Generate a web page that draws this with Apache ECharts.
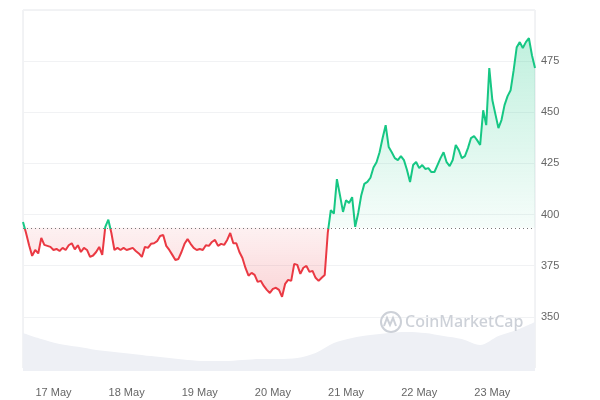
<!DOCTYPE html>
<html>
<head>
<meta charset="utf-8">
<script src="https://cdn.jsdelivr.net/npm/echarts@6/dist/echarts.min.js"></script>
<style>html,body{margin:0;padding:0;background:#fff;}#c{width:600px;height:400px;}</style>
</head>
<body>
<div id="c"></div>
<script>
// hourly samples starting 16 May 14:00
const startLabel = '2024-05-16T14:00:00Z';
const baseline = 393.5;
const price = [
396.4,391,385,379.8,382.7,381,388.6,385.2,384.7,384.2,
382.7,383.2,382.2,383.7,382.7,385,386,383,385,381.7,
383.7,382.7,379.3,380,381.7,384.2,380.3,394,397.5,391,
382.7,383.7,382.7,383.7,382.7,383.2,383.7,382.2,381,379.3,
384.2,383.7,385.7,386,387,389.5,390,384.7,382.7,380.3,
377.8,378.3,381.7,385.7,388,385.7,383.7,382.7,383.2,382.7,
385,384.7,386.6,387.6,384.7,385.7,385.2,387.6,391,386,
386,381.7,378.8,373.9,370.1,371.5,370.5,367.1,367.6,365.1,
363.2,361.7,363.7,364.2,363.2,359.8,366.1,368.1,367.6,375.9,
375.4,371,374,374.9,372,372.5,369.1,367.6,369.1,370.5,
391,402.2,400.5,417.3,409.5,401.3,407,405.7,408.5,394,
400.8,409.5,415,416,418,423,425.6,430.5,437.4,443.7,
433,430.5,427.6,426.6,428.6,426.6,421.8,415.9,424.2,425.7,
422.7,424.2,422.3,422.7,420.8,420.8,424.2,427.6,430.5,425.6,
423.7,426.7,434,431.5,427.6,428.6,432.5,437.4,438.4,436.4,
434,451,443.7,471.6,456,449.1,442.3,446.2,453.5,457.9,
460.8,470.6,481.8,484.3,481.4,484.3,486.2,477.9,471.6
];
// volume every 6 hours (arbitrary units)
const volume = [
53.5,45,38,34,29.6,26.8,24,21,18.3,15.5,
14,14,15.5,17,17,18.3,25.4,39.4,46.5,50.7,
53.5,55,53.5,49.3,45,36.6,49.3,57.7,69
];
const monthName = 'May';

const GREEN = '#16c784', RED = '#ea3943';
const t0 = Date.parse(startLabel);
const hours = price.map((_, i) => new Date(t0 + i * 3600e3).toISOString());
const volHours = volume.map((_, i) => new Date(t0 + i * 6 * 3600e3).toISOString());
const greenPart = price.map(v => Math.max(v, baseline));
const redPart = price.map(v => Math.min(v, baseline));
const pMax = Math.max(...price), pMin = Math.min(...price);
const split = (pMax - baseline) / (pMax - pMin);

const chart = echarts.init(document.getElementById('c'));
const font = '"Liberation Sans", Arial, sans-serif';
chart.setOption({
  animation: false,
  grid: [
    {left: 23, right: 65, top: 10, bottom: 32, show: true, borderColor: '#e4e6ea', borderWidth: 1},
    {left: 23, right: 65, top: 300, bottom: 29}
  ],
  xAxis: [
    {type: 'category', gridIndex: 0, data: hours, boundaryGap: false,
     axisLine: {show: false}, axisTick: {show: false}, splitLine: {show: false},
     axisLabel: {margin: 19, color: '#666', fontSize: 11, fontFamily: font,
       interval: (idx, val) => new Date(val).getUTCHours() === 0,
       formatter: val => new Date(val).getUTCDate() + ' ' + monthName}},
    {type: 'category', gridIndex: 1, data: volHours, boundaryGap: false, show: false}
  ],
  yAxis: [
    {type: 'value', gridIndex: 0, position: 'right', min: 325, max: 500, interval: 25,
     axisLine: {show: false}, axisTick: {show: false},
     axisLabel: {margin: 6, color: '#666', fontSize: 11, fontFamily: font, showMinLabel: false, showMaxLabel: false},
     splitLine: {lineStyle: {color: '#f1f2f4'}}},
    {type: 'value', gridIndex: 1, min: 0, max: 100, show: false, splitLine: {show: false}}
  ],
  graphic: [
    {type: 'circle', z: 50, shape: {cx: 391, cy: 322, r: 10}, style: {fill: 'none', stroke: '#cdd1d8', lineWidth: 2}},
    {type: 'polyline', z: 50, shape: {points: [[384, 326], [387, 318], [390, 325], [393, 318], [396, 326]]}, style: {fill: 'none', stroke: '#cdd1d8', lineWidth: 2}},
    {type: 'text', z: 50, x: 405, y: 322, style: {text: 'CoinMarketCap', font: '500 16px "Noto Sans", sans-serif', fill: '#cdd1d8', verticalAlign: 'middle'}}
  ],
  series: [
    {type: 'line', xAxisIndex: 1, yAxisIndex: 1, data: volume, showSymbol: false, smooth: 0.3,
     lineStyle: {width: 0}, areaStyle: {color: '#eef0f5', opacity: 1}, silent: true, z: 1},
    {type: 'line', data: greenPart, showSymbol: false, lineStyle: {width: 0}, silent: true, z: 2,
     areaStyle: {origin: baseline, color: new echarts.graphic.LinearGradient(0, 0, 0, 1, [
       {offset: 0, color: 'rgba(22,199,132,0.38)'}, {offset: 1, color: 'rgba(22,199,132,0.06)'}])}},
    {type: 'line', data: redPart, showSymbol: false, lineStyle: {width: 0}, silent: true, z: 2,
     areaStyle: {origin: baseline, color: new echarts.graphic.LinearGradient(0, 0, 0, 1, [
       {offset: 0, color: 'rgba(234,57,67,0.10)'}, {offset: 1, color: 'rgba(234,57,67,0.30)'}])}},
    {type: 'line', data: price, showSymbol: false, z: 3,
     lineStyle: {width: 2, color: new echarts.graphic.LinearGradient(0, 0, 0, 1, [
       {offset: 0, color: GREEN}, {offset: split, color: GREEN},
       {offset: split, color: RED}, {offset: 1, color: RED}])},
     markLine: {silent: true, symbol: 'none', label: {show: false},
       lineStyle: {type: [1, 3], color: '#777', width: 1},
       data: [{yAxis: baseline}]}}
  ]
});
</script>
</body>
</html>
